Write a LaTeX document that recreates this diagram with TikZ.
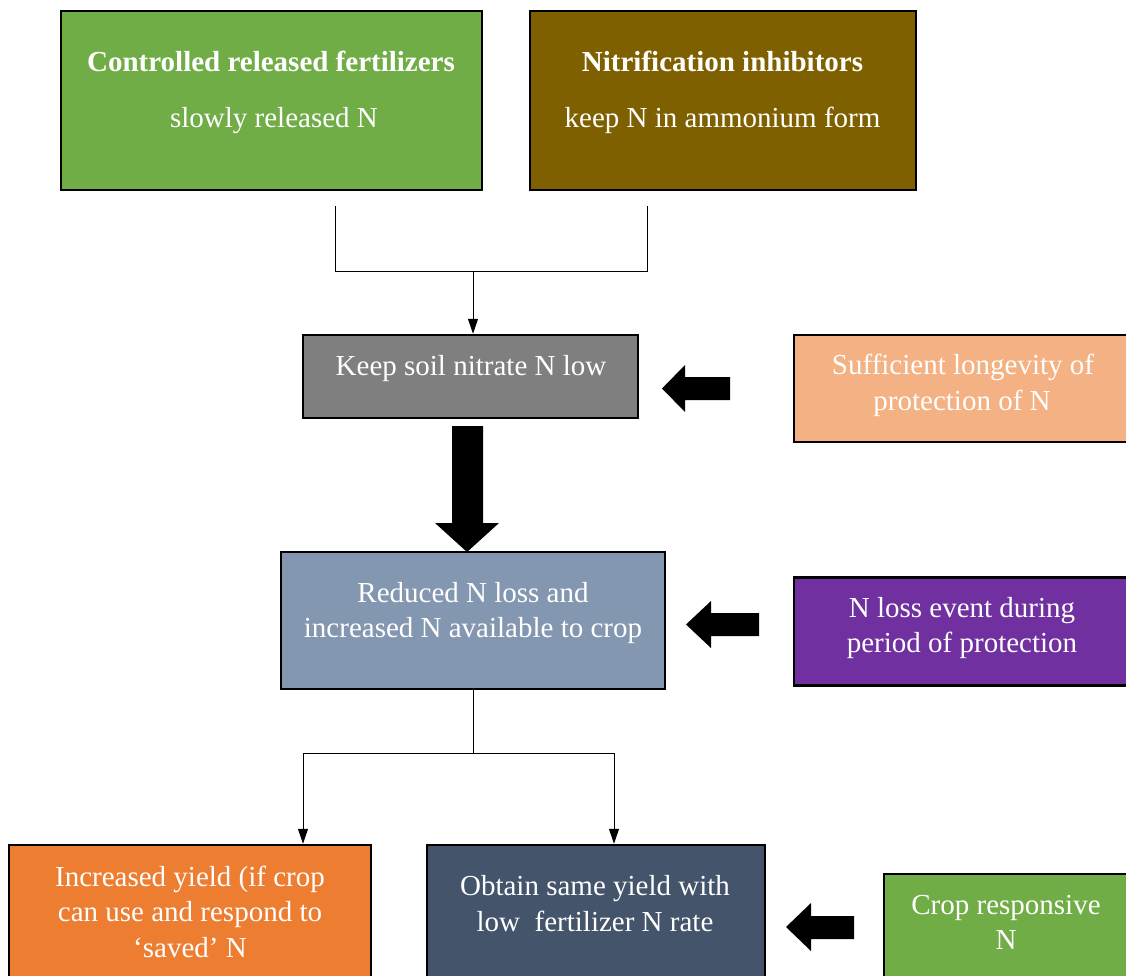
\documentclass[tikz,border=0pt]{standalone}
\usepackage{fontspec}
\setmainfont{Liberation Serif}
\usetikzlibrary{arrows.meta}
\definecolor{cgreen}{HTML}{70AD47}
\definecolor{cbrown}{HTML}{7F6000}
\definecolor{cgray}{HTML}{7F7F7F}
\definecolor{cpeach}{HTML}{F4B183}
\definecolor{cbluegray}{HTML}{8497B0}
\definecolor{cpurple}{HTML}{7030A0}
\definecolor{corange}{HTML}{ED7D31}
\definecolor{cslate}{HTML}{44546A}
\begin{document}
\begin{tikzpicture}[x=1pt,y=-1pt,
  box/.style={draw=black, line width=2.5pt, inner sep=0pt, rectangle},
  txt/.style={text=white, inner sep=0pt, text height=19pt, text depth=0pt, anchor=center,
              font=\fontsize{29}{36}\selectfont},
  btxt/.style={txt, font=\fontsize{29}{36}\selectfont\bfseries},
  conn/.style={line width=1pt, draw=black},
  arr/.style={conn, -{Triangle[length=15pt,width=10pt]}},
  blk/.style={fill=black}]
\useasboundingbox (0,0) rectangle (1126,975);
\clip (0,0) rectangle (1126,975);

% boxes
\node[box, fill=cgreen, minimum width=421, minimum height=179] (crf) at (271.5,100.5) {};
\node[box, fill=cbrown, minimum width=386, minimum height=179] (ni) at (723,100.5) {};
\node[box, fill=cgray, minimum width=335, minimum height=83] (soil) at (470.5,376.5) {};
\node[box, fill=cpeach, minimum width=338, minimum height=107] (suff) at (963,388.5) {};
\node[box, fill=cbluegray, minimum width=384, minimum height=137] (red) at (473,620.5) {};
\node[box, fill=cpurple, minimum width=336, minimum height=108] (loss) at (962,631.5) {};
\node[box, fill=corange, minimum width=362, minimum height=140] (inc) at (190,915) {};
\node[box, fill=cslate, minimum width=338, minimum height=140] (obt) at (596,915) {};
\node[box, fill=cgreen, minimum width=244, minimum height=126] (crop) at (1006,937) {};

% texts
\node[btxt] (crf1) at (271,62) {Controlled released fertilizers};
\node[txt] (crf2) at (274,118) {slowly released N};
\node[btxt] (ni1) at (722.5,62) {Nitrification inhibitors};
\node[txt] (ni2) at (722.5,118) {keep N in ammonium form};
\node[txt] (soil1) at (471,366) {Keep soil nitrate N low};
\node[txt] (suff1) at (963,365) {Sufficient longevity of};
\node[txt] (suff2) at (962,401) {protection of N};
\node[txt] (red1) at (473,593) {Reduced N loss and};
\node[txt] (red2) at (473,628) {increased N available to crop};
\node[txt] (loss1) at (962,608) {N loss event during};
\node[txt] (loss2) at (962,643) {period of protection};
\node[txt] (inc1) at (190,877) {Increased yield (if crop};
\node[txt] (inc2) at (190,912) {can use and respond to};
\node[txt] (inc3) at (190,948) {‘saved’ N};
\node[txt] (obt1) at (595,886) {Obtain same yield with};
\node[txt] (obt2) at (595,922) {low\ \ fertilizer N rate};
\node[txt] (crop1) at (1006,905) {Crop responsive};
\node[txt] (crop2) at (1006,940) {N};

% thin connectors
\coordinate (c1) at (335,206);
\coordinate (c2) at (647,206);
\coordinate (j1) at (473,271);
\draw[conn] (c1) -- (c1 |- j1) -- (c2 |- j1) -- (c2);
\draw[arr] (j1) -- (j1 |- soil.north);

\coordinate (j2) at (473,753);
\coordinate (l1) at (303,753);
\coordinate (r1) at (614,753);
\draw[conn] (red.south) -- (j2);
\draw[conn] (l1) -- (r1);
\draw[arr] (l1) -- (l1 |- inc.north);
\draw[arr] (r1) -- (r1 |- obt.north);

% block arrows
\fill[blk] (467,552) -- (435,523) -- (452,523) -- (452,426) -- (483,426) -- (483,523) -- (499,523) -- cycle;
\fill[blk] (662,388.5) -- (685,365) -- (685,377) -- (730,377) -- (730,400) -- (685,400) -- (685,412) -- cycle;
\fill[blk] (686,624.5) -- (711,601) -- (711,613) -- (759,613) -- (759,636) -- (711,636) -- (711,648) -- cycle;
\fill[blk] (786,927) -- (811,903) -- (811,916) -- (854,916) -- (854,939) -- (811,939) -- (811,951) -- cycle;
\end{tikzpicture}
\end{document}
